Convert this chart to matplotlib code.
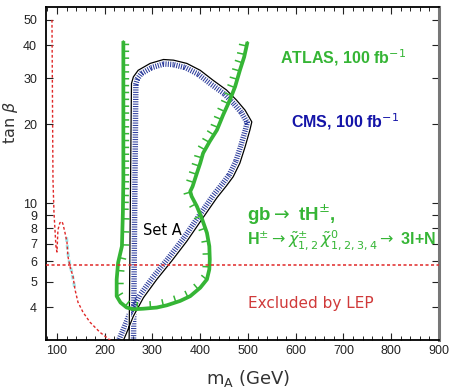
# -*- coding: utf-8 -*-
"""
Charged Higgs discovery reach in the (m_A, tan beta) plane,
gb -> tH+-, H+- -> chargino/neutralino -> 3l + N (Set A).

Output:
    out.png
"""

import matplotlib

matplotlib.use("Agg")
import matplotlib.pyplot as plt
import matplotlib.patheffects as pe
from matplotlib.ticker import FixedLocator, MultipleLocator, NullLocator


# =============================================================================
# Data
# =============================================================================
# ATLAS 100 fb^-1 contour (hatched towards the reach region)
ATLAS_MA = [239, 239, 239, 238, 236, 228, 225, 225, 233, 246, 260, 281, 309,
            330, 358, 379, 400, 414, 419, 420, 419, 414, 403, 393, 382, 379,
            384, 393, 400, 406, 420, 435, 448, 462, 473, 483, 492, 499]
ATLAS_TANB = [41.5, 25.0, 12.3, 9.2, 6.84, 5.92, 5.11, 4.41, 4.17, 3.99, 3.93,
              3.95, 3.99, 4.07, 4.23, 4.41, 4.75, 5.11, 5.58, 6.09, 6.84, 7.69,
              8.77, 9.71, 10.6, 11.07, 11.57, 13.0, 14.2, 15.5, 17.2, 19.0,
              21.7, 24.7, 27.8, 32.1, 36.1, 41.2]

# CMS 100 fb^-1 contour
CMS_MA = [251, 254, 256, 260, 270, 295, 323, 344, 372, 400, 427, 455, 476,
          494, 508, 504, 494, 483, 469, 455, 435, 403, 372, 340, 309, 281,
          260, 246, 236]
CMS_TANB = [2.9, 11.9, 28.6, 30.3, 32.1, 34.1, 35.3, 35.1, 34.1, 32.1, 29.4,
            27.0, 24.7, 22.6, 20.4, 19.0, 16.4, 14.2, 12.6, 11.64, 10.48, 8.64,
            7.15, 6.0, 5.11, 4.35, 3.70, 3.20, 2.9]

# LEP exclusion
LEP_MA = [89.5, 91.6, 93.7, 97.9, 100, 102, 106, 110.5, 112.6, 116.8, 120.9,
          123, 127.2, 133.5, 137.7, 144, 154.5, 169, 190, 213]
LEP_TANB = [50, 12.3, 9.2, 6.8, 6.5, 7.9, 8.4, 8.5, 8.3, 7.7, 7.1, 6.25, 5.73,
            5.25, 4.68, 4.18, 3.83, 3.51, 3.21, 2.98]
LEP_TANB_LIMIT = 5.78

# faint cyan trace under the LEP curve
CYAN_MA = [120, 123, 127, 131, 134, 138]
CYAN_TANB = [7.4, 6.4, 5.8, 5.45, 5.1, 4.65]

X_TICKS = [100, 200, 300, 400, 500, 600, 700, 800, 900]
Y_TICKS = [4, 5, 6, 7, 8, 9, 10, 20, 30, 40, 50]

# =============================================================================
# Style
# =============================================================================
GREEN = "#35b535"
CMS_BLUE = "#1414a8"
CMS_HATCH = "#2c3c9c"
RED = "#e02828"
RED_TEXT = "#d03a3a"
CYAN = "#9fe6ea"
SANS = ["Liberation Sans", "DejaVu Sans"]

# (start, stop, spacing [pt], length [x spacing]) for the ATLAS hatching
ATLAS_TICK_SEGMENTS = [
    (0, 4, 4.8, 0.75),
    (3, 27, 9.0, 0.5),
    (26, 38, 6.0, 0.85),
]

W_PX, H_PX, DPI = 454, 389, 100


def set_plot_style() -> None:
    plt.rcParams.update(
        {
            "font.family": ["DejaVu Sans"],
            "font.size": 10,
            "mathtext.fontset": "dejavusans",
        }
    )


# =============================================================================
# Plotting
# =============================================================================
def plot_reach(output: str = "out.png") -> None:
    fig = plt.figure(figsize=(W_PX / DPI, H_PX / DPI), dpi=DPI, facecolor="white")
    ax = fig.add_axes([46 / W_PX, 1 - 340 / H_PX, 393 / W_PX, 333 / H_PX])

    ax.set_yscale("log")
    ax.set_xlim(77, 900)
    ax.set_ylim(3.0, 56)

    # LEP exclusion
    ax.plot(CYAN_MA, CYAN_TANB, color=CYAN, lw=2.2, ls=(0, (1.5, 1)), zorder=4)
    ax.plot(LEP_MA, LEP_TANB, color=RED, lw=1.0, ls=(0, (2, 1.6)), zorder=5)
    ax.axhline(LEP_TANB_LIMIT, color=RED, lw=1.1, ls=(0, (2, 1.6)), zorder=5)

    # CMS: black outline with a dense blue comb on the inner side
    ax.plot(CMS_MA, CMS_TANB, color=CMS_HATCH, lw=0.75, zorder=2,
            path_effects=[pe.withTickedStroke(angle=-90, spacing=1.7, length=2.8)])
    ax.plot(CMS_MA, CMS_TANB, color="white", lw=2.4, zorder=2.1)
    ax.plot(CMS_MA, CMS_TANB, color="black", lw=0.9, zorder=2.2)

    # ATLAS: thick green line with sparse ticks
    ax.plot(ATLAS_MA, ATLAS_TANB, color=GREEN, lw=2.7, zorder=3,
            solid_joinstyle="round", solid_capstyle="butt")
    for i0, i1, spacing, length in ATLAS_TICK_SEGMENTS:
        ax.plot(ATLAS_MA[i0:i1], ATLAS_TANB[i0:i1], color=GREEN, lw=1.1,
                zorder=3.1,
                path_effects=[pe.withTickedStroke(angle=90, spacing=spacing,
                                                  length=length)])

    # labels inside the frame
    ax.text(698, 36.0, r"ATLAS, 100 fb$^{-1}$", color=GREEN, fontsize=11.5,
            fontweight="bold", family=SANS, ha="center", va="center")
    ax.text(703, 20.4, r"CMS, 100 fb$^{-1}$", color=CMS_BLUE, fontsize=11.5,
            fontweight="bold", family=SANS, ha="center", va="center")
    ax.text(497, 9.0, r"gb$\rightarrow$ tH$^{\pm}$,", color=GREEN, fontsize=13.5,
            fontweight="bold", family=SANS, ha="left", va="center")
    ax.text(498, 7.25,
            r"H$^{\pm}\rightarrow\tilde{\chi}^{\pm}_{1,2}\,"
            r"\tilde{\chi}^{0}_{1,2,3,4}\rightarrow$ 3l+N",
            color=GREEN, fontsize=11.5, fontweight="bold", family=SANS,
            ha="left", va="center")
    ax.text(500, 4.14, "Excluded by LEP", color=RED_TEXT, fontsize=11,
            ha="left", va="center")
    ax.text(320, 7.85, "Set A", color="black", fontsize=10.5,
            ha="center", va="center")

    # axes
    ax.xaxis.set_major_locator(FixedLocator(X_TICKS))
    ax.xaxis.set_minor_locator(MultipleLocator(20))
    ax.set_xticklabels([str(v) for v in X_TICKS])
    ax.yaxis.set_major_locator(FixedLocator(Y_TICKS))
    ax.yaxis.set_minor_locator(NullLocator())
    ax.set_yticklabels([str(v) for v in Y_TICKS])

    ax.tick_params(which="both", direction="in", top=True, right=True,
                   colors="#222222", labelcolor="#222222")
    ax.tick_params(which="major", length=5, width=0.8)
    ax.tick_params(which="minor", length=3, width=0.7)
    ax.tick_params(axis="x", pad=3.5, labelsize=9)
    ax.tick_params(axis="y", pad=6.5, labelsize=9)
    for lab in ax.get_xticklabels() + ax.get_yticklabels():
        lab.set_family(SANS)

    ax.set_xlabel(r"m$_{\mathrm{A}}$ (GeV)", fontsize=13, color="#333333")
    ax.set_ylabel(r"tan $\beta$", fontsize=11.5, color="#333333")
    ax.xaxis.set_label_coords(0.514, -0.085)
    ax.yaxis.set_label_coords(-0.066, 0.652)

    for side in ("left", "bottom", "top"):
        ax.spines[side].set_linewidth(1.3)
        ax.spines[side].set_color("black")
    ax.spines["right"].set_linewidth(2.2)
    ax.spines["right"].set_color("#777777")

    fig.savefig(output, dpi=DPI, facecolor="white")
    plt.close(fig)


def main() -> None:
    set_plot_style()
    plot_reach("out.png")


if __name__ == "__main__":
    main()
